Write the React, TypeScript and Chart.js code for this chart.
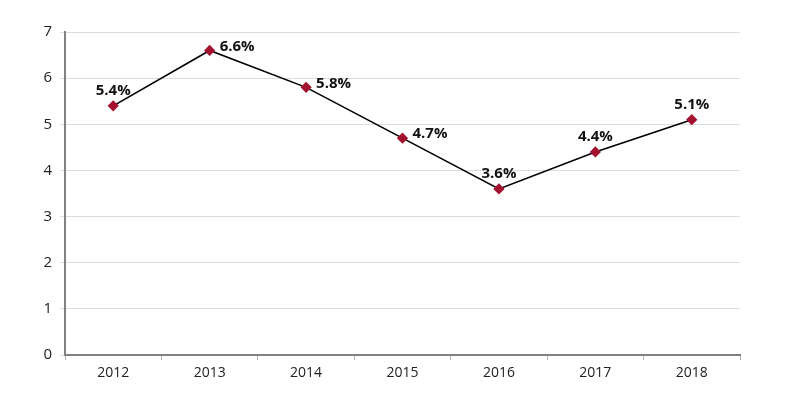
import React, { useEffect, useRef } from "react";
import { Chart, registerables } from "chart.js";

Chart.register(...registerables);

const categories = ["2012", "2013", "2014", "2015", "2016", "2017", "2018"];
const values = [5.4, 6.6, 5.8, 4.7, 3.6, 4.4, 5.1];
const labelPlacement = ["top", "right", "right", "right", "top", "top", "top"];
const yTicks = [0, 1, 2, 3, 4, 5, 6, 7];

const FONT = "'Open Sans', 'DejaVu Sans', sans-serif";

const labelPlugin = {
  id: "pointLabels",
  afterDatasetsDraw(chart: any) {
    const ctx = chart.ctx;
    const meta = chart.getDatasetMeta(0);
    ctx.save();
    ctx.font = "bold 15px " + FONT;
    ctx.fillStyle = "#111";
    meta.data.forEach((pt: any, i: number) => {
      const text = values[i].toFixed(1) + "%";
      if (labelPlacement[i] === "top") {
        ctx.textAlign = "center";
        ctx.textBaseline = "middle";
        ctx.fillText(text, pt.x, pt.y - 15);
      } else {
        ctx.textAlign = "left";
        ctx.textBaseline = "middle";
        ctx.fillText(text, pt.x + 10, pt.y - 4);
      }
    });
    ctx.restore();
  },
};

export default function App() {
  const ref = useRef<HTMLCanvasElement>(null);
  useEffect(() => {
    document.body.style.margin = "0";
    const chart = new Chart(ref.current!, {
      type: "line",
      data: {
        labels: categories,
        datasets: [
          {
            data: values,
            borderColor: "#000",
            borderWidth: 1.6,
            pointStyle: "rectRot",
            pointRadius: 4.5,
            pointBackgroundColor: "#a3122f",
            pointBorderColor: "#a3122f",
            tension: 0,
          },
        ],
      },
      options: {
        animation: false,
        responsive: false,
        layout: { padding: { left: 0, right: 47, top: 32, bottom: 0 } },
        plugins: { legend: { display: false }, tooltip: { enabled: false } },
        scales: {
          x: {
            offset: true,
            grid: {
              display: true,
              offset: true,
              drawOnChartArea: false,
              drawTicks: true,
              tickLength: 5,
              color: "#b0b0b0",
            },
            border: { color: "#808080", width: 2 },
            ticks: {
              color: "#222",
              font: { size: 14, family: FONT },
              padding: 5,
            },
            afterFit: (s: any) => {
              s.height = 44;
            },
          },
          y: {
            min: 0,
            max: 7,
            afterBuildTicks: (s: any) => {
              s.ticks = yTicks.map((v) => ({ value: v }));
            },
            grid: { color: "#dcdcdc", lineWidth: 1, tickLength: 5 },
            border: { color: "#808080", width: 2 },
            ticks: {
              color: "#222",
              font: { size: 15, family: FONT },
              padding: 8,
            },
            afterFit: (s: any) => {
              s.width = 65;
            },
          },
        },
      },
      plugins: [labelPlugin],
    });
    return () => chart.destroy();
  }, []);
  return (
    <div style={{ position: "absolute", left: 0, top: 0, width: 787, height: 399, background: "#fff" }}>
      <canvas ref={ref} width={787} height={399} />
    </div>
  );
}
